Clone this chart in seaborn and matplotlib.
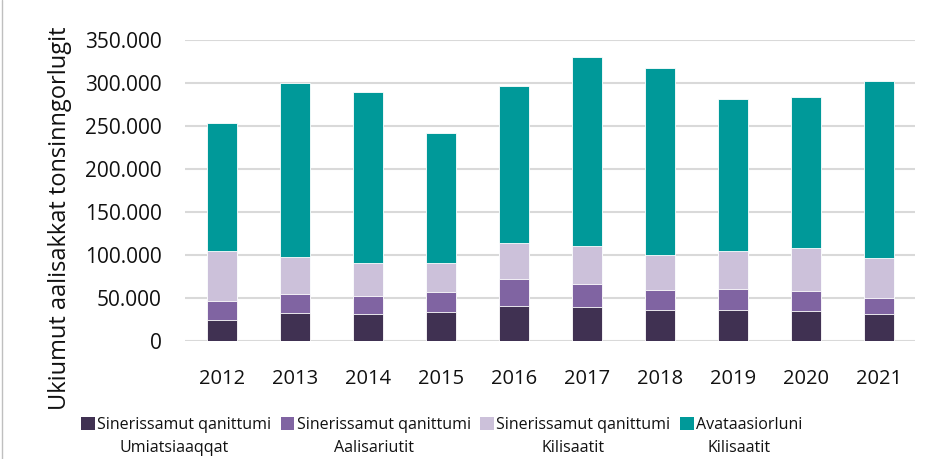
import matplotlib
matplotlib.use("Agg")
import matplotlib.pyplot as plt
import matplotlib.ticker as mticker
from matplotlib.patches import Patch
from matplotlib.lines import Line2D
import numpy as np
import pandas as pd
import seaborn as sns

years = ["2012", "2013", "2014", "2015", "2016", "2017", "2018", "2019", "2020", "2021"]
umiatsiaaqqat = [24400, 33300, 31750, 33700, 41400, 40300, 36800, 36800, 35600, 32100]
aalisariutit = [22450, 21300, 20500, 23200, 31400, 26300, 23200, 24400, 22900, 18600]
kilisaatit_sinerissamut = [58450, 43360, 38730, 34100, 41400, 44100, 40300, 43700, 49500, 46100]
kilisaatit_avataasiorluni = [147900, 201740, 198600, 151000, 182800, 219200, 217200, 176600, 175400, 206000]

legend_line1 = ["Sinerissamut qanittumi", "Sinerissamut qanittumi", "Sinerissamut qanittumi", "Avataasiorluni"]
legend_line2 = ["Umiatsiaaqqat", "Aalisariutit", "Kilisaatit", "Kilisaatit"]
series_values = [umiatsiaaqqat, aalisariutit, kilisaatit_sinerissamut, kilisaatit_avataasiorluni]
colors = ["#403152", "#8064A2", "#CCC1DA", "#009999"]

sns.set_theme(style="white")
plt.rcParams["font.family"] = ["Open Sans", "DejaVu Sans"]

fig = plt.figure(figsize=(9.33, 4.59), dpi=100)
ax = fig.add_axes([0.1988, 0.2564, 0.7824, 0.6565])

cum = np.cumsum(np.array(series_values, dtype=float), axis=0)
for i in range(len(series_values) - 1, -1, -1):
    df = pd.DataFrame({"year": years, "value": cum[i]})
    sns.barplot(data=df, x="year", y="value", color=colors[i], width=0.4,
                edgecolor="white", linewidth=0.6, saturation=1, ax=ax, zorder=3)

ax.set_ylim(0, 350000)
ax.set_xlim(-0.5, 9.5)
ax.yaxis.set_major_locator(mticker.MultipleLocator(50000))
ax.yaxis.set_major_formatter(mticker.FuncFormatter(lambda v, p: f"{int(v):,}".replace(",", ".")))
ax.grid(axis="y", color="#D9D9D9", linewidth=1.5, zorder=0)
ax.set_axisbelow(True)
for s in ax.spines.values():
    s.set_visible(False)
ax.tick_params(axis="y", length=0, pad=17, labelsize=15, labelcolor="#111111")
ax.tick_params(axis="x", length=0, pad=20, labelsize=14.5, labelcolor="#111111")
for lab in ax.get_xticklabels() + ax.get_yticklabels():
    lab.set_fontfamily("Open Sans")
ax.set_xlabel("")
ax.set_ylabel("Ukiumut aalisakkat tonsinngorlugit", fontsize=17, color="#111111",
              fontfamily="Open Sans")
ax.yaxis.set_label_coords(-0.155, 0.41)

handles = [Patch(facecolor=c, edgecolor="none") for c in colors]
leg = fig.legend(handles, legend_line1, loc="center left", bbox_to_anchor=(81 / 933, 1 - 425 / 459),
                 ncol=4, frameon=False, fontsize=11.5, handlelength=0.85, handleheight=0.85,
                 handletextpad=0.15, columnspacing=0.6, borderaxespad=0, borderpad=0)
for t in leg.get_texts():
    t.set_color("#111111")
    t.set_fontfamily("Open Sans")

fig.canvas.draw()
renderer = fig.canvas.get_renderer()
inv = fig.transFigure.inverted()
for t, s2 in zip(leg.get_texts(), legend_line2):
    bb = t.get_window_extent(renderer)
    cx = (bb.x0 + bb.x1) / 2 - 10
    fx, _ = inv.transform((cx, 0))
    fig.text(fx, 1 - 448 / 459, s2, ha="center", va="center", fontsize=11.5,
             fontfamily="Open Sans", color="#111111")

fig.add_artist(Line2D([0.002, 0.002], [0, 1], color="#BFBFBF", linewidth=1, transform=fig.transFigure))

fig.savefig("out.png", dpi=100)
